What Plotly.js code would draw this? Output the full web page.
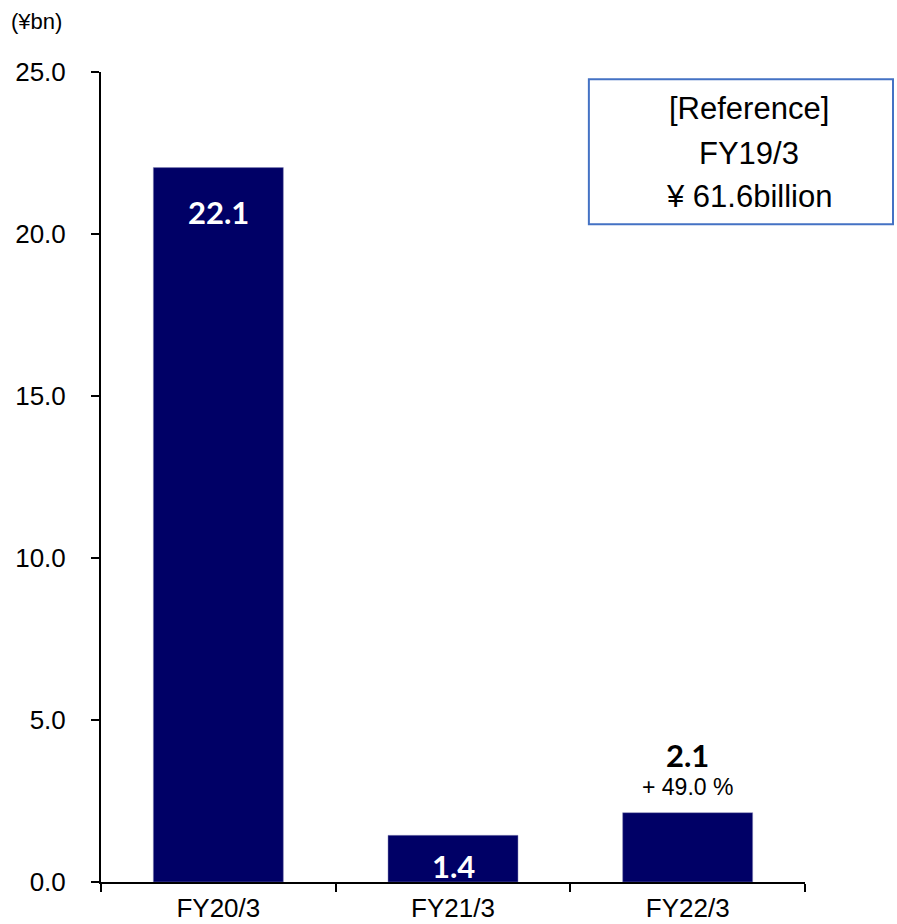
<!DOCTYPE html>
<html>
<head>
<meta charset="utf-8">
<script src="https://cdn.plot.ly/plotly-3.0.1.min.js"></script>
<style>html,body{margin:0;padding:0;background:#fff;}#chart{width:897px;height:924px;}</style>
</head>
<body>
<div id="chart"></div>
<script>
// Data
var categories = ['FY20/3', 'FY21/3', 'FY22/3'];
var values = [22.05, 1.44, 2.14];
var valueLabels = ['22.1', '1.4', '2.1'];
var growthLabel = '+ 49.0 %';
var yTicks = [0, 5, 10, 15, 20, 25];
var unitLabel = '(¥bn)';
var refLines = ['[Reference]', 'FY19/3', '¥ 61.6billion'];

var barColor = '#000066';
var tickFont = {family: 'Liberation Sans, Arial, sans-serif', size: 26, color: '#000'};
var labelFont = {family: 'Lato, sans-serif', size: 31, color: '#fff', weight: 'bold'};

var trace = {
  type: 'bar',
  x: categories,
  y: values,
  marker: {color: barColor, line: {color: '#8a8ab8', width: 0.5}},
  hoverinfo: 'skip'
};

var annotations = [
  {x: categories[0], y: values[0], xref: 'x', yref: 'y', text: '<b>' + valueLabels[0] + '</b>',
   showarrow: false, yanchor: 'middle', yshift: -44, font: labelFont},
  {x: categories[1], y: 0, xref: 'x', yref: 'y', text: '<b>' + valueLabels[1] + '</b>',
   showarrow: false, yanchor: 'middle', yshift: 16, font: labelFont},
  {x: categories[2], y: values[2], xref: 'x', yref: 'y', text: '<b>' + valueLabels[2] + '</b>',
   showarrow: false, yanchor: 'middle', yshift: 58, font: Object.assign({}, labelFont, {color: '#000'})},
  {x: categories[2], y: values[2], xref: 'x', yref: 'y', text: growthLabel,
   showarrow: false, yanchor: 'middle', yshift: 26, font: {family: 'Liberation Sans, Arial, sans-serif', size: 23, color: '#000'}},
  {x: -0.13, y: 1.062, xref: 'paper', yref: 'paper', text: unitLabel, showarrow: false,
   xanchor: 'left', yanchor: 'middle', font: {family: 'Liberation Sans, Arial, sans-serif', size: 22, color: '#000'}}
];
var refY = [0.955, 0.9, 0.846];
refLines.forEach(function (t, i) {
  annotations.push({x: 0.921, y: refY[i], xref: 'paper', yref: 'paper', text: t, showarrow: false,
    xanchor: 'center', yanchor: 'middle', font: {family: 'Liberation Sans, Arial, sans-serif', size: 31, color: '#000'}});
});

var layout = {
  width: 897, height: 924,
  margin: {l: 101, r: 92, t: 72, b: 42},
  paper_bgcolor: '#fff', plot_bgcolor: '#fff',
  showlegend: false,
  bargap: 0.446,
  xaxis: {
    type: 'category',
    showline: true, linecolor: '#000', linewidth: 2,
    ticks: 'outside', tickson: 'boundaries', ticklen: 8, tickwidth: 2, tickcolor: '#000',
    tickfont: tickFont, showgrid: false, zeroline: false,
    ticklabelstandoff: 2, fixedrange: true
  },
  yaxis: {
    range: [0, 25], tickvals: yTicks, tickformat: '.1f',
    showline: true, linecolor: '#000', linewidth: 2,
    ticks: 'outside', ticklen: 8, tickwidth: 2, tickcolor: '#000',
    tickfont: tickFont, showgrid: false, zeroline: false,
    ticklabelstandoff: 20, fixedrange: true
  },
  shapes: [{
    type: 'rect', xref: 'paper', yref: 'paper',
    x0: 0.693, x1: 1.125, y0: 0.812, y1: 0.991,
    line: {color: '#4472C4', width: 2}, fillcolor: 'rgba(0,0,0,0)'
  }],
  annotations: annotations
};

Plotly.newPlot('chart', [trace], layout, {displayModeBar: false, staticPlot: true});
</script>
</body>
</html>
